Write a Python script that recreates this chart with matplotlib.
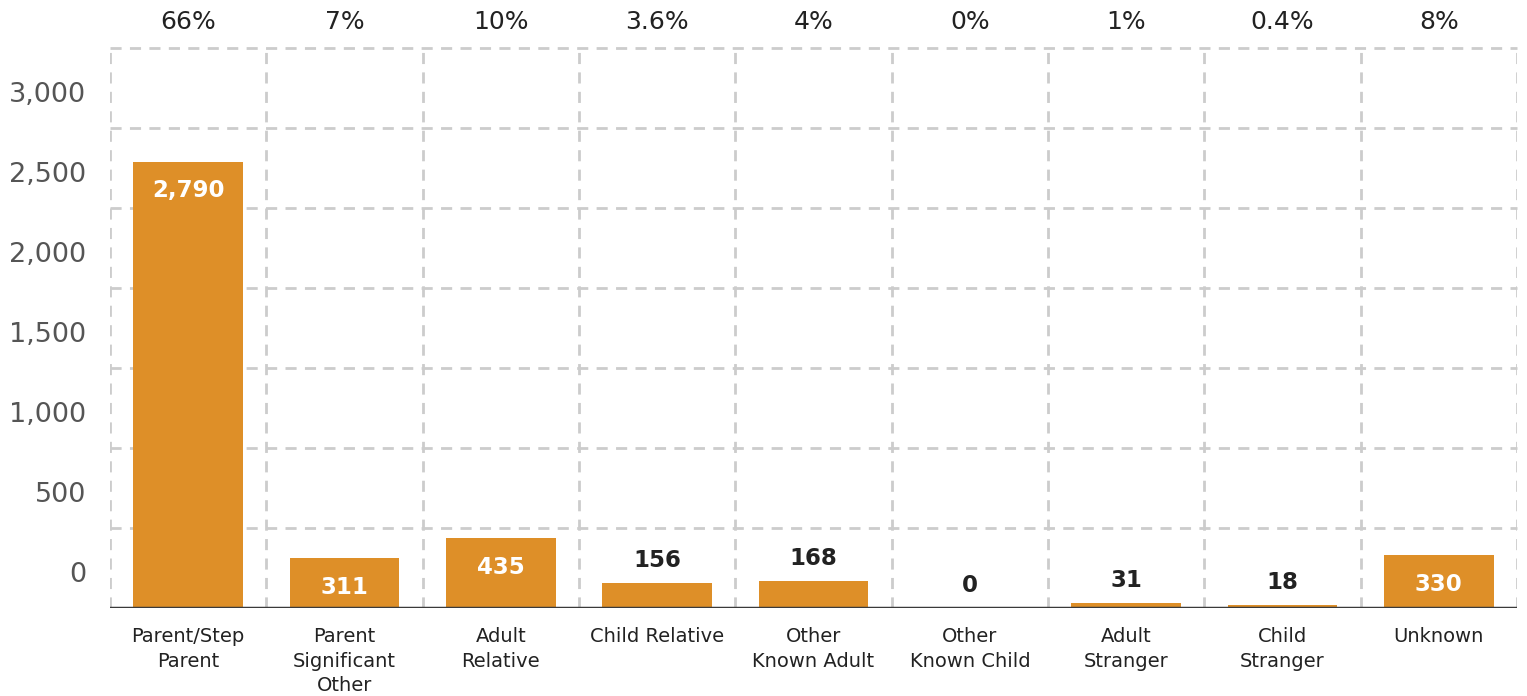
import numpy as np
import matplotlib
matplotlib.use("Agg")
import matplotlib.pyplot as plt
from matplotlib.transforms import ScaledTranslation, blended_transform_factory

# relationship of perpetrator to victim
categories = ["Parent/Step\nParent", "Parent\nSignificant\nOther", "Adult\nRelative",
              "Child Relative", "Other\nKnown Adult", "Other\nKnown Child",
              "Adult\nStranger", "Child\nStranger", "Unknown"]
counts = [2790, 311, 435, 156, 168, 0, 31, 18, 330]
shares = ["66%", "7%", "10%", "3.6%", "4%", "0%", "1%", "0.4%", "8%"]
y_ticks = [0, 500, 1000, 1500, 2000, 2500, 3000]

BAR = "#DE8F28"
DARK = "#222222"
GRID = "#CCCCCC"
DASH = (0, (4, 3))

plt.rcParams["font.family"] = ["DejaVu Sans"]

fig = plt.figure(figsize=(15.27, 6.96), dpi=100)
ax = fig.add_axes([110 / 1527, 1 - 608 / 696, (1517 - 110) / 1527, (608 - 48) / 696])

x = np.arange(len(categories))
ax.bar(x, counts, width=0.70, color=BAR, zorder=3)

ax.set_xlim(-0.5, len(categories) - 0.5)
ax.set_ylim(0, 3500)

# dashed grid: horizontal every 500, vertical between categories
for level in np.arange(500, 3501, 500):
    ax.axhline(level, color=GRID, linestyle=DASH, linewidth=2, zorder=0, clip_on=False)
ax.set_xticks(np.arange(-0.5, len(categories), 1), minor=True)
ax.grid(which="minor", axis="x", color=GRID, linestyle=DASH, linewidth=2, zorder=0)
for s in ax.spines.values():
    s.set_visible(False)
ax.axhline(0, color="#3a3a3a", linewidth=2.5, zorder=4)

ax.set_xticks(x)
ax.set_xticklabels(categories, fontsize=14, color=DARK, linespacing=1.35, va="top")
ax.set_yticks(y_ticks)
ax.set_yticklabels([f"{v:,}" for v in y_ticks], fontsize=19.5, color="#555555")
ax.tick_params(which="both", length=0)
ax.tick_params(axis="x", pad=14)
ax.tick_params(axis="y", pad=17)
shift = ScaledTranslation(0, 36 / 100, fig.dpi_scale_trans)
for lab in ax.get_yticklabels():
    lab.set_transform(lab.get_transform() + shift)

# value labels: white inside tall bars, dark above short ones
for xi, v in zip(x, counts):
    if v >= 300:
        ax.annotate(f"{v:,}", (xi, v), xytext=(0, -21), textcoords="offset points",
                    ha="center", va="center", fontsize=16.5, fontweight="bold",
                    color="white", zorder=5)
    else:
        ax.annotate(f"{v:,}", (xi, v), xytext=(0, 16), textcoords="offset points",
                    ha="center", va="center", fontsize=16.5, fontweight="bold",
                    color=DARK, zorder=5)

# share of total above each column
top = blended_transform_factory(ax.transData, ax.transAxes)
for xi, s in zip(x, shares):
    ax.annotate(s, (xi, 1), xycoords=top, xytext=(0, 19), textcoords="offset points",
                ha="center", va="center", fontsize=18, color=DARK)

fig.savefig("out.png", dpi=100)
